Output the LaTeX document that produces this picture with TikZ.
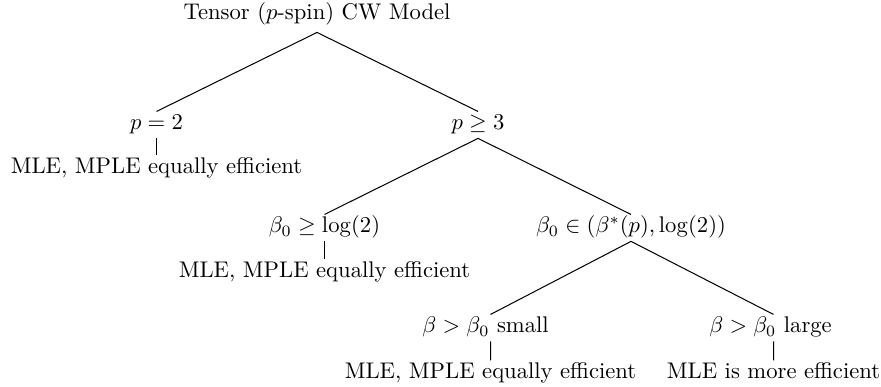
\documentclass[tikz,border=0pt]{standalone}
\begin{document}
\begin{tikzpicture}[x=0.4419pt,y=-0.4419pt,
  lab/.style={anchor=base,inner sep=1pt,text height=7pt,text depth=2.5pt},
  edge/.style={line width=0.45pt}]
\useasboundingbox (0,0) rectangle (881,387);
\node[lab,text depth=4.3pt] (root) at (317,20) {Tensor ($p$-spin) CW Model};
\node[lab] (p2) at (156.5,130) {$p=2$};
\node[lab] (leafA) at (156.5,174) {MLE, MPLE equally efficient};
\node[lab] (p3) at (478,130) {$p\geq 3$};
\node[lab] (bA) at (324.5,233) {$\beta_0\geq\log(2)$};
\node[lab] (leafB) at (324.5,278) {MLE, MPLE equally efficient};
\node[lab] (bB) at (631,233) {$\beta_0\in(\beta^*(p),\log(2))$};
\node[lab] (bs) at (485.5,333) {$\beta>\beta_0$ small};
\node[lab] (bl) at (770.5,333) {$\beta>\beta_0$ large};
\node[lab] (leafC) at (490.5,379) {MLE, MPLE equally efficient};
\node[lab] (leafD) at (773.5,379) {MLE is more efficient};
\draw[edge] (root.south) -- (p2.north);
\draw[edge] (root.south) -- (p3.north);
\draw[edge] (p2.south) -- (leafA.north);
\draw[edge] (p3.south) -- (bA.north);
\draw[edge] (p3.south) -- (bB.north);
\draw[edge] (bA.south) -- (leafB.north);
\draw[edge] (bB.south) -- ([xshift=2.21pt]bs.north);
\draw[edge] (bB.south) -- ([xshift=1.326pt]bl.north);
\draw[edge] ([xshift=2.21pt]bs.south) -- (leafC.north);
\draw[edge] ([xshift=1.326pt]bl.south) -- (leafD.north);
\end{tikzpicture}
\end{document}
